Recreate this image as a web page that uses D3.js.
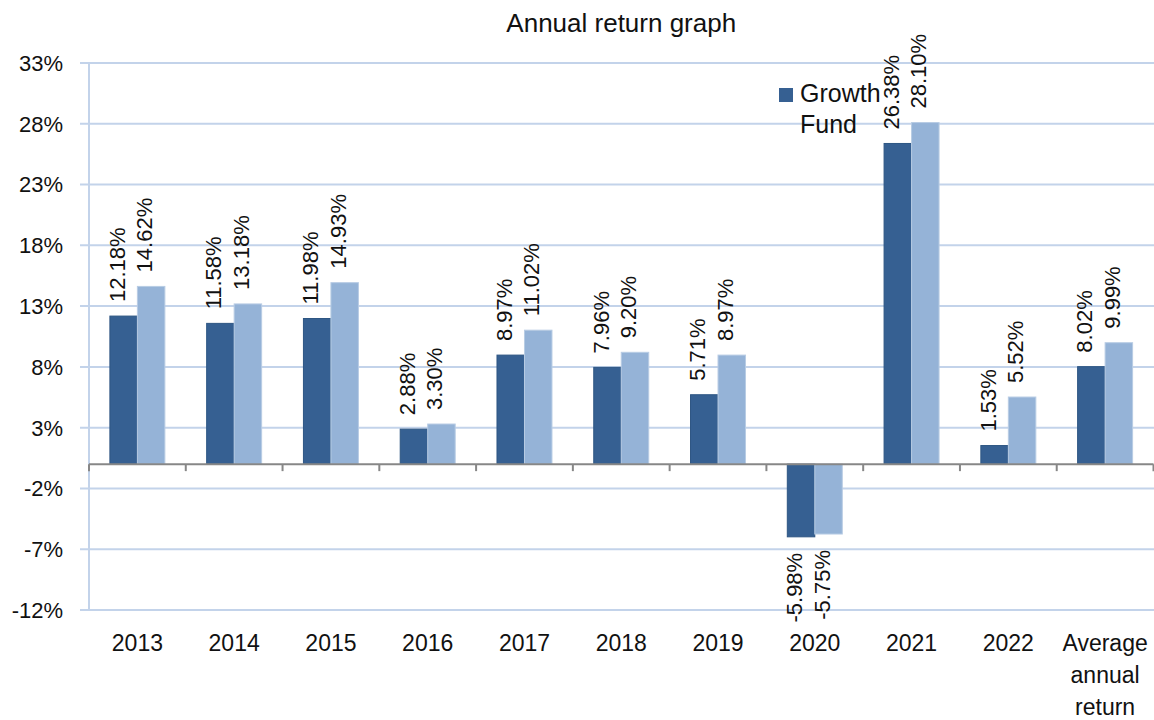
<!DOCTYPE html>
<html>
<head>
<meta charset="utf-8">
<script src="https://cdn.jsdelivr.net/npm/d3@7"></script>
<style>
  body{margin:0;background:#fff;}
  svg{display:block;font-family:"Liberation Sans",Arial,sans-serif;}
</style>
</head>
<body>
<div id="chart"></div>
<script>
/* annual return bars: fund vs comparison, with rotated value labels */

const categories = ["2013","2014","2015","2016","2017","2018","2019","2020","2021","2022","Average annual return"];
const fundReturns  = [12.18, 11.58, 11.98, 2.88, 8.97, 7.96, 5.71, -5.98, 26.38, 1.53, 8.02];
const benchReturns = [14.62, 13.18, 14.93, 3.30, 11.02, 9.20, 8.97, -5.75, 28.10, 5.52, 9.99];
const seriesKeys   = ["fund","bench"];
const legendLabel  = "Growth Fund";
const yTicks       = [-12,-7,-2,3,8,13,18,23,28,33];

const W=1154, H=720;
const M={top:63,right:0.5,bottom:110,left:89};
const COLORS={fund:"#366092", bench:"#95B3D7"};
const STROKES={fund:"#2E5683", bench:"#B8CCE4"};
const GRID="#C3D3EA";

const svg=d3.select("#chart").append("svg").attr("width",W).attr("height",H);

const x=d3.scaleBand().domain(categories).range([M.left,W-M.right]);
const xs=d3.scaleBand().domain(seriesKeys).range([0,x.bandwidth()]).paddingOuter(0.76);
const y=d3.scaleLinear().domain([-12,33]).range([H-M.bottom,M.top]);

const rows=categories.map((c,i)=>({cat:c, fund:fundReturns[i], bench:benchReturns[i]}));

/* title */
svg.append("text").attr("x",(M.left+W-M.right)/2).attr("y",32)
  .attr("text-anchor","middle").style("font-size","26px").style("fill","#111")
  .text("Annual return graph");

/* gridlines + y ticks */
const gy=svg.append("g");
gy.selectAll("line").data(yTicks).enter().append("line")
  .attr("x1",M.left-9).attr("x2",W)
  .attr("y1",d=>y(d)).attr("y2",d=>y(d))
  .attr("stroke",GRID).attr("stroke-width",2);
gy.selectAll("text").data(yTicks).enter().append("text")
  .attr("x",63).attr("y",d=>y(d)).attr("dy","0.36em")
  .attr("text-anchor","end").style("font-size","22px").style("fill","#111")
  .text(d=>d+"%");

/* y axis line */
svg.append("line").attr("x1",M.left).attr("x2",M.left)
  .attr("y1",y(33)).attr("y2",y(-12))
  .attr("stroke",GRID).attr("stroke-width",2);

/* bars */
const grp=svg.append("g").selectAll("g").data(rows).enter().append("g")
  .attr("transform",d=>`translate(${x(d.cat)},0)`);

grp.selectAll("rect").data(d=>seriesKeys.map(k=>({k,v:d[k]}))).enter().append("rect")
  .attr("x",d=>xs(d.k)).attr("width",xs.bandwidth())
  .attr("y",d=>y(Math.max(0,d.v))).attr("height",d=>Math.abs(y(d.v)-y(0)))
  .attr("fill",d=>COLORS[d.k]).attr("stroke",d=>STROKES[d.k]).attr("stroke-width",1);

grp.selectAll("text").data(d=>seriesKeys.map(k=>({k,v:d[k]}))).enter().append("text")
  .attr("transform",d=>{
    const cx=xs(d.k)+xs.bandwidth()/2+1;
    const cy=d.v>=0 ? y(d.v)-14 : y(d.v)+16;
    return `translate(${cx},${cy}) rotate(-90)`;
  })
  .attr("text-anchor",d=>d.v>=0?"start":"end")
  .style("font-size","22px").style("fill","#111")
  .text(d=>d.v.toFixed(2)+"%");

/* zero axis with category ticks */
const zx=svg.append("g").attr("transform",`translate(0,${y(0)})`);
zx.append("line").attr("x1",M.left).attr("x2",W-M.right)
  .attr("stroke","#878787").attr("stroke-width",2);
const bounds=categories.map(c=>x(c)).concat([x.range()[1]]);
zx.selectAll("line.tk").data(bounds).enter().append("line").attr("class","tk")
  .attr("x1",d=>d).attr("x2",d=>d).attr("y1",0).attr("y2",7)
  .attr("stroke","#878787").attr("stroke-width",2);

/* category labels (wrapped) */
const cl=svg.append("g").selectAll("text").data(categories).enter().append("text")
  .attr("x",d=>x(d)+x.bandwidth()/2).attr("y",651)
  .attr("text-anchor","middle").style("font-size","23px").style("fill","#111");
cl.each(function(d){
  const words=d.split(" ");
  const t=d3.select(this);
  words.forEach((w,i)=>t.append("tspan").attr("x",x(d)+x.bandwidth()/2)
    .attr("dy",i?32:0).text(w));
});

/* legend */
const lg=svg.append("g").attr("transform","translate(779,88)");
lg.append("rect").attr("width",14).attr("height",14).attr("fill",COLORS.fund);
lg.append("text").attr("x",21).attr("y",14).style("font-size","25px").style("fill","#111")
  .selectAll("tspan").data(legendLabel.split(" ")).enter().append("tspan")
  .attr("x",21).attr("dy",(d,i)=>i?31:0).text(d=>d);
</script>
</body>
</html>
